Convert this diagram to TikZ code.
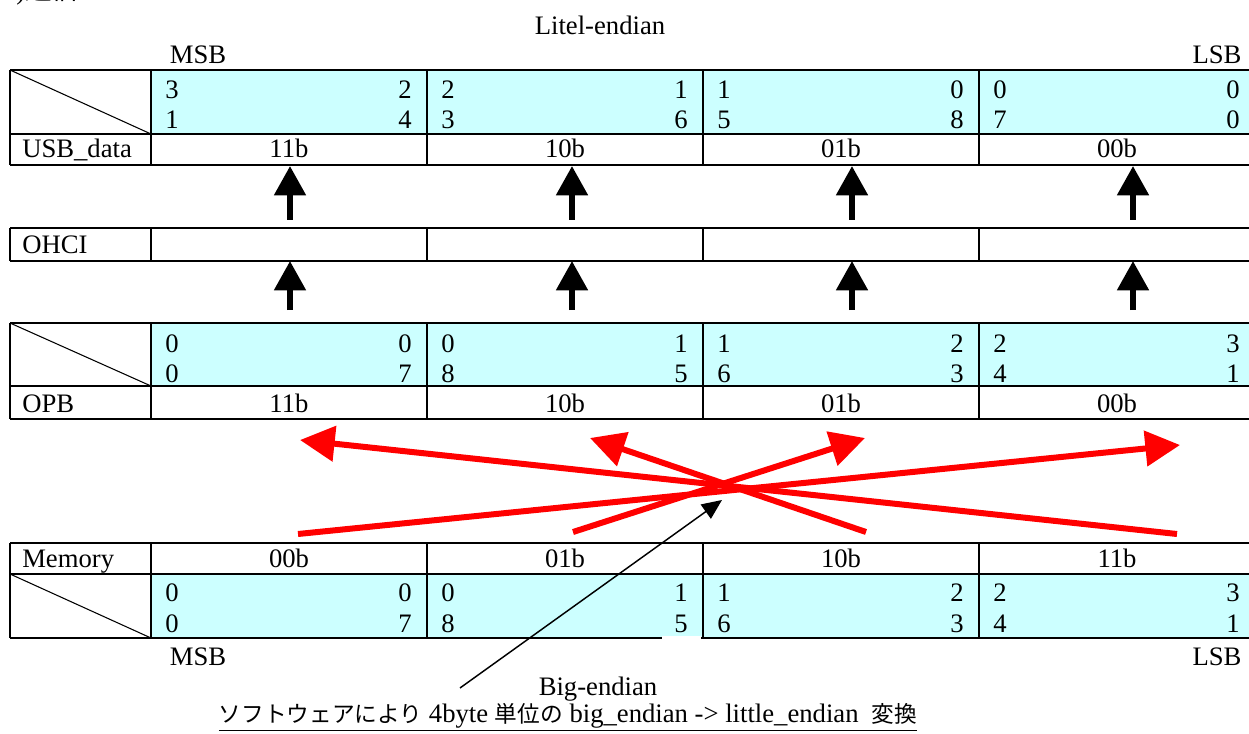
\documentclass[tikz,border=0pt]{standalone}
\usepackage{fontspec}
\setmainfont{Liberation Serif}
\newfontfamily\jpfont{Noto Sans CJK JP}
\usetikzlibrary{arrows.meta}
\definecolor{bitcyan}{RGB}{204,255,255}
\definecolor{swapred}{RGB}{255,0,0}
\tikzset{
  txt/.style={font=\fontsize{20}{22}\selectfont, inner sep=0pt},
  bit/.style={txt, anchor=base},
  grid/.style={line width=1.6pt},
  slash/.style={line width=0.8pt},
  uparrow/.style={line width=4.5pt, -{Triangle[length=22pt,width=23pt]}},
  swap/.style={swapred, line width=4.5pt, -{Triangle[length=26pt,width=26pt]}},
  pointer/.style={line width=1.1pt, -{Triangle[length=15pt,width=13pt]}},
}
\begin{document}
\begin{tikzpicture}[x=0.75pt,y=-0.75pt]
\useasboundingbox (0,0) rectangle (1249,734);

% heading, cut off at the top
\node[txt, anchor=south west] (head) at (16,5) {)\jpfont 通信};
\node[txt] (title) at (600,25) {Litel-endian};
\node[txt] (msbtop) at (198,55) {MSB};
\node[txt] (lsbtop) at (1217,55) {LSB};

% USB_data
\fill[bitcyan] (151,70) rectangle (1255,134);
\draw[grid] (10,70) -- (1255,70) (10,134) -- (1255,134) (10,165) -- (1255,165);
\foreach \x in {10,151,427,703,979} \draw[grid] (\x,70) -- (\x,165);
\draw[slash] (10,70) -- (151,134);
\node[txt, anchor=base west] (usb) at (22,158) {USB\_data};
\foreach \a/\b/\c/\d [count=\i] in {3/2/1/4, 2/1/3/6, 1/0/5/8, 0/0/7/0} {
  \node[bit, anchor=base west] (ua\i) at (276*\i-111,99) {\a};
  \node[bit, anchor=base east] (ub\i) at (276*\i+136,99) {\b};
  \node[bit, anchor=base west] (uc\i) at (276*\i-111,129) {\c};
  \node[bit, anchor=base east] (ud\i) at (276*\i+136,129) {\d};
}
\foreach \t [count=\i] in {11b,10b,01b,00b}
  \node[bit] (ul\i) at (276*\i+13,158) {\t};

% OHCI -> USB_data
\foreach \x [count=\i] in {290,572,852,1133} {
  \coordinate (uf\i) at (\x,220);
  \coordinate (ut\i) at (\x,166);
  \draw[uparrow] (uf\i) -- (ut\i);
}

% OHCI
\draw[grid] (10,228) -- (1255,228) (10,261) -- (1255,261);
\foreach \x in {10,151,427,703,979} \draw[grid] (\x,228) -- (\x,261);
\node[txt, anchor=base west] (ohci) at (22,254) {OHCI};

% OPB -> OHCI
\foreach \x [count=\i] in {290,572,852,1133} {
  \coordinate (hf\i) at (\x,310);
  \coordinate (ht\i) at (\x,261);
  \draw[uparrow] (hf\i) -- (ht\i);
}

% OPB
\fill[bitcyan] (151,323) rectangle (1255,386);
\draw[grid] (10,323) -- (1255,323) (10,386) -- (1255,386) (10,419) -- (1255,419);
\foreach \x in {10,151,427,703,979} \draw[grid] (\x,323) -- (\x,419);
\draw[slash] (10,323) -- (151,386);
\node[txt, anchor=base west] (opb) at (22,412) {OPB};
\foreach \a/\b/\c/\d [count=\i] in {0/0/0/7, 0/1/8/5, 1/2/6/3, 2/3/4/1} {
  \node[bit, anchor=base west] (oa\i) at (276*\i-111,352) {\a};
  \node[bit, anchor=base east] (ob\i) at (276*\i+136,352) {\b};
  \node[bit, anchor=base west] (oc\i) at (276*\i-111,382) {\c};
  \node[bit, anchor=base east] (od\i) at (276*\i+136,382) {\d};
}
\foreach \t [count=\i] in {11b,10b,01b,00b}
  \node[bit] (ol\i) at (276*\i+13,412) {\t};

% byte swap
\coordinate (s1) at (1177,534); \coordinate (e1) at (300,440);
\coordinate (s2) at (298,534);  \coordinate (e2) at (1180,445);
\coordinate (s3) at (866,532);  \coordinate (e3) at (590,438);
\coordinate (s4) at (573,532);  \coordinate (e4) at (865,438);
\foreach \i in {1,...,4} \draw[swap] (s\i) -- (e\i);

% Memory
\fill[bitcyan] (151,574) rectangle (1255,638);
\draw[grid] (10,543) -- (1255,543) (10,574) -- (1255,574) (10,638) -- (1255,638);
\foreach \x in {10,151,427,703,979} \draw[grid] (\x,543) -- (\x,638);
\draw[slash] (10,574) -- (151,638);
\fill[white] (662,636) rectangle (701,641);
\node[txt, anchor=base west] (mem) at (22,567) {Memory};
\foreach \t [count=\i] in {00b,01b,10b,11b}
  \node[bit] (ml\i) at (276*\i+13,567) {\t};
\foreach \a/\b/\c/\d [count=\i] in {0/0/0/7, 0/1/8/5, 1/2/6/3, 2/3/4/1} {
  \node[bit, anchor=base west] (ma\i) at (276*\i-111,601) {\a};
  \node[bit, anchor=base east] (mb\i) at (276*\i+136,601) {\b};
  \node[bit, anchor=base west] (mc\i) at (276*\i-111,632) {\c};
  \node[bit, anchor=base east] (md\i) at (276*\i+136,632) {\d};
}
\node[txt] (msbbot) at (198,657) {MSB};
\node[txt] (lsbbot) at (1217,657) {LSB};

% note
\node[txt] (big) at (598,689) {Big-endian};
\coordinate (pf) at (460,688);
\coordinate (pt) at (722,500);
\draw[pointer] (pf) -- (pt);
\node[txt] (cap) at (568,717) {\underline{{\jpfont\fontsize{17}{20}\selectfont ソフトウェアにより} 4byte {\jpfont\fontsize{17}{20}\selectfont 単位の} big\_endian -> little\_endian\ \ {\jpfont\fontsize{17}{20}\selectfont 変換}}};
\end{tikzpicture}
\end{document}
